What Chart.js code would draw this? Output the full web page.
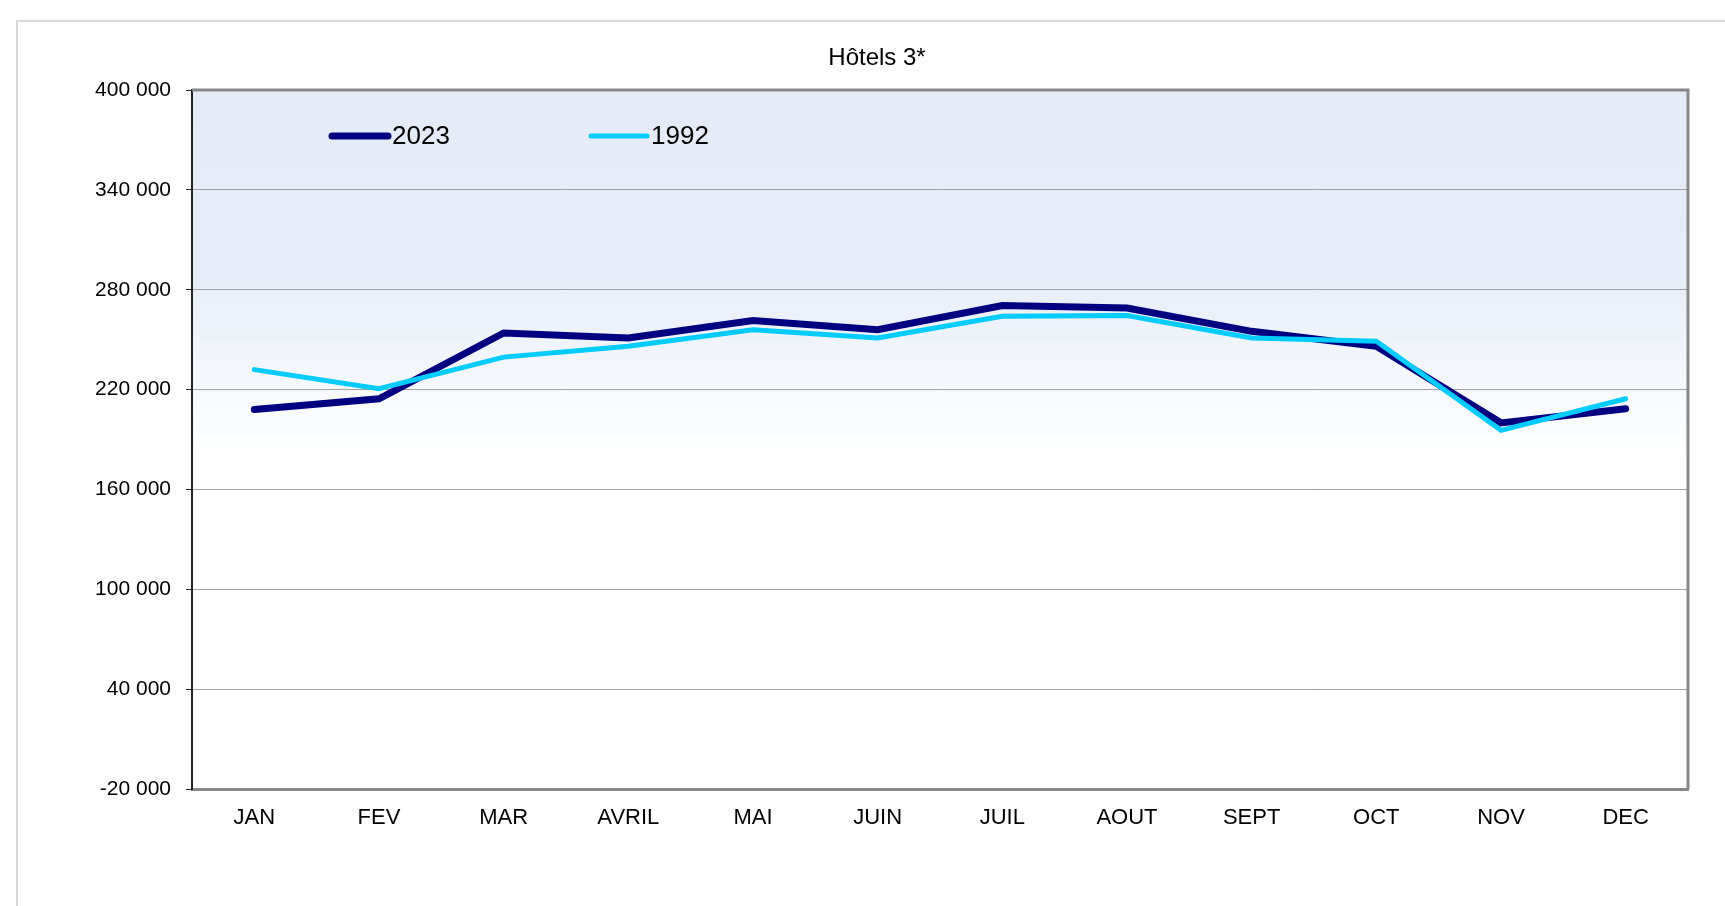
<!DOCTYPE html>
<html lang="fr">
<head>
  <meta charset="UTF-8">
  <title>Hôtels 3*</title>
  <style>
    body {
      margin: 0;
      background: #fff;
      overflow: hidden;
    }
    #chart { display: block; }
  </style>
</head>
<body>
  <canvas id="chart" width="1725" height="906"></canvas>

  <script src="https://cdn.jsdelivr.net/npm/chart.js"></script>
  <script>
    // nuitées mensuelles, hôtels 3 étoiles
    const mois = ['JAN', 'FEV', 'MAR', 'AVRIL', 'MAI', 'JUIN', 'JUIL', 'AOUT', 'SEPT', 'OCT', 'NOV', 'DEC'];
    const annees = ['2023', '1992'];
    const valeurs2023 = [208000, 214500, 254000, 251000, 261500, 256000, 270500, 269000, 255000, 246000, 200000, 208500];
    const valeurs1992 = [232000, 220500, 239500, 246000, 256000, 251000, 264000, 264500, 251000, 249000, 195500, 214500];
    const axeMin = -20000;
    const axeMax = 400000;
    const axePas = 60000;

    const police = 'Arial, "Liberation Sans", sans-serif';

    // "400 000" : espace comme séparateur de milliers
    const formatNombre = v => String(v).replace(/\B(?=(\d{3})+(?!\d))/g, ' ');

    // cadre gris clair du graphique + dégradé de la zone de traçage
    const fond = {
      id: 'fond',
      beforeDraw(chart) {
        const { ctx, chartArea: a } = chart;
        ctx.save();
        ctx.strokeStyle = '#d9d9d9';
        ctx.lineWidth = 2;
        ctx.strokeRect(17, 21, chart.width + 50, chart.height + 50);

        const g = ctx.createLinearGradient(0, a.top, 0, a.bottom);
        g.addColorStop(0, '#e4ebf7');
        g.addColorStop(0.27, '#e7edf8');
        g.addColorStop(0.52, '#ffffff');
        g.addColorStop(1, '#ffffff');
        ctx.fillStyle = g;
        ctx.fillRect(a.left, a.top, a.right - a.left, a.bottom - a.top);
        ctx.restore();
      }
    };

    // bords haut/droite de la zone + légende dans le graphique
    const habillage = {
      id: 'habillage',
      afterDraw(chart) {
        const { ctx, chartArea: a } = chart;
        ctx.save();
        ctx.strokeStyle = '#888';
        ctx.lineWidth = 3;
        ctx.beginPath();
        ctx.moveTo(a.left, a.top);
        ctx.lineTo(a.right, a.top);
        ctx.lineTo(a.right, a.bottom);
        ctx.stroke();

        const y = 136;
        chart.data.datasets.forEach((ds, i) => {
          const x = 332 + i * 259;
          ctx.strokeStyle = ds.borderColor;
          ctx.lineWidth = ds.borderWidth;
          ctx.lineCap = 'round';
          ctx.beginPath();
          ctx.moveTo(x, y);
          ctx.lineTo(x + 56, y);
          ctx.stroke();
          ctx.fillStyle = '#000';
          ctx.font = '26px ' + police;
          ctx.textBaseline = 'middle';
          ctx.textAlign = 'left';
          ctx.fillText(ds.label, x + 60, y + 1);
        });
        ctx.restore();
      }
    };

    new Chart(document.getElementById('chart'), {
      type: 'line',
      data: {
        labels: mois,
        datasets: [
          {
            label: annees[0],
            data: valeurs2023,
            borderColor: '#000080',
            borderWidth: 7,
            order: 1
          },
          {
            label: annees[1],
            data: valeurs1992,
            borderColor: '#00ccff',
            borderWidth: 5,
            order: 0
          }
        ]
      },
      options: {
        responsive: false,
        animation: false,
        elements: {
          point: { radius: 0, hoverRadius: 0 },
          line: { tension: 0, borderCapStyle: 'round', borderJoinStyle: 'miter', fill: false }
        },
        layout: { padding: { left: 66, right: 37, top: 0, bottom: 0 } },
        plugins: {
          legend: { display: false },
          tooltip: { enabled: false },
          title: {
            display: true,
            text: 'Hôtels 3*',
            color: '#000',
            font: { family: police, size: 24, weight: 'normal' },
            padding: { top: 44, bottom: 17.2 }
          }
        },
        scales: {
          x: {
            offset: true,
            grid: { display: false, drawTicks: false },
            border: { display: true, color: '#888', width: 3 },
            ticks: {
              color: '#000',
              font: { family: police, size: 22 },
              padding: 16,
              maxRotation: 0,
              autoSkip: false
            },
            afterFit(scale) { scale.height = 117; }
          },
          y: {
            min: axeMin,
            max: axeMax,
            grid: {
              color: '#a3a3a3',
              lineWidth: 1,
              tickColor: '#222',
              tickLength: 6
            },
            border: { display: true, color: '#222', width: 2 },
            ticks: {
              stepSize: axePas,
              color: '#000',
              font: { family: police, size: 21 },
              padding: 15,
              callback: v => formatNombre(v)
            },
            afterFit(scale) { scale.width = 126; }
          }
        }
      },
      plugins: [fond, habillage]
    });
  </script>
</body>
</html>
